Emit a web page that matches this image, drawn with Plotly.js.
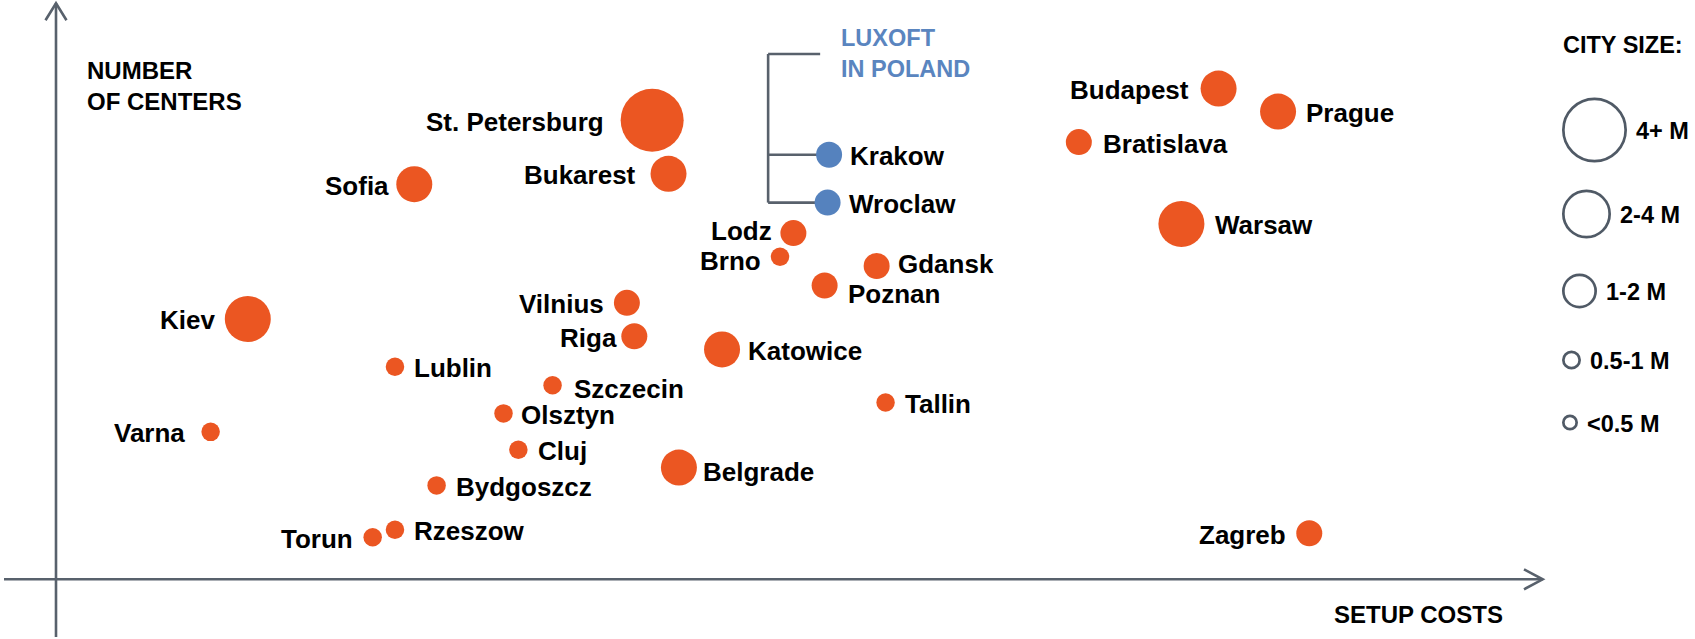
<!DOCTYPE html>
<html>
<head>
<meta charset="utf-8">
<script src="https://cdn.plot.ly/plotly-3.0.1.min.js"></script>
<style>
  html, body { margin: 0; padding: 0; background: #ffffff; }
  #chart { width: 1695px; height: 639px; }
</style>
</head>
<body>
<div id="chart"></div>
<script>
// ---------------- DATA ----------------
// x: setup costs index (0 = origin, 100 = axis arrow), y: number of centers index
const cities = [
  'St. Petersburg', 'Bukarest', 'Sofia', 'Kiev', 'Vilnius', 'Riga', 'Lublin',
  'Szczecin', 'Olsztyn', 'Varna', 'Cluj', 'Belgrade', 'Bydgoszcz', 'Torun',
  'Rzeszow', 'Katowice', 'Tallin', 'Zagreb', 'Krakow', 'Wroclaw', 'Lodz',
  'Brno', 'Gdansk', 'Poznan', 'Budapest', 'Prague', 'Bratislava', 'Warsaw'
];
const setupCost = [
  40.1, 41.2, 24.1, 12.9, 38.4, 38.9, 22.8,
  33.4, 30.1, 10.4, 31.1, 41.9, 25.6, 21.3,
  22.8, 44.8, 55.8, 84.3, 52.0, 51.9, 49.6,
  48.7, 55.2, 51.7, 78.2, 82.2, 68.8, 75.7
];
const numCenters = [
  79.7, 70.4, 68.6, 45.2, 48.0, 42.2, 36.9,
  33.7, 28.8, 25.6, 22.5, 19.4, 16.3, 7.3,
  8.6, 39.9, 30.7, 8.0, 73.7, 65.4, 60.1,
  56.0, 54.4, 51.0, 85.2, 81.2, 75.9, 61.7
];
const citySize = [
  '4+ M', '1-2 M', '1-2 M', '2-4 M', '0.5-1 M', '0.5-1 M', '<0.5 M',
  '<0.5 M', '<0.5 M', '<0.5 M', '<0.5 M', '1-2 M', '<0.5 M', '<0.5 M',
  '<0.5 M', '1-2 M', '<0.5 M', '0.5-1 M', '0.5-1 M', '0.5-1 M', '0.5-1 M',
  '<0.5 M', '0.5-1 M', '0.5-1 M', '1-2 M', '1-2 M', '0.5-1 M', '2-4 M'
];
const luxoftCities = ['Krakow', 'Wroclaw'];
const sizeClasses = ['4+ M', '2-4 M', '1-2 M', '0.5-1 M', '<0.5 M'];

const xAxisTitle = 'SETUP COSTS';
const yAxisTitle = 'NUMBER<br>OF CENTERS';
const legendTitle = 'CITY SIZE:';
const groupTitle = 'LUXOFT<br>IN POLAND';

// ---------------- STYLE / LAYOUT ----------------
const W = 1695, H = 639;
const X_RANGE = [-3.767, 110.245];
const Y_RANGE = [-10.365, 100.573];
const pxX = W / (X_RANGE[1] - X_RANGE[0]);
const pxY = H / (Y_RANGE[1] - Y_RANGE[0]);

const ORANGE = '#EB5622';
const BLUE = '#5582BE';
const BLUE_TEXT = '#5A85BF';
const AXIS = '#58616C';
const LEGEND_LINE = '#505A66';
const FONT = 'Liberation Sans, Arial, Helvetica, sans-serif';

const DIAM = { '4+ M': 63, '2-4 M': 46, '1-2 M': 36, '0.5-1 M': 26, '<0.5 M': 18.5 };

// labels placed to the left of their point
const labelLeft = ['St. Petersburg', 'Bukarest', 'Sofia', 'Kiev', 'Vilnius', 'Riga',
  'Varna', 'Torun', 'Zagreb', 'Lodz', 'Brno', 'Budapest'];
const LABEL_GAP = { 'St. Petersburg': 16, 'Bukarest': 14, 'Sofia': 6, 'Riga': 3, 'Varna': 15,
  'Belgrade': 5, 'Olsztyn': 7, 'Lodz': 7, 'Gdansk': 7, 'Krakow': 7, 'Wroclaw': 7, 'Katowice': 7,
  'Szczecin': 11, 'Budapest': 11, 'Bratislava': 10, 'Warsaw': 10 };
const LABEL_NUDGE = { 'Poznan': 7, 'Lodz': -4, 'Gdansk': -3, 'Brno': 3, 'Belgrade': 3, 'Szczecin': 2 };

const LABEL_FONT = { family: FONT, size: 26, color: '#000000', weight: 'bold' };
const TITLE_FONT = { family: FONT, size: 24, color: '#000000', weight: 'bold' };
const LEGEND_FONT = { family: FONT, size: 23.5, color: '#000000', weight: 'bold' };

// ---------------- TRACES ----------------
const allIdx = cities.map((c, i) => i);
const orangeIdx = allIdx.filter(i => !luxoftCities.includes(cities[i]));
const blueIdx = allIdx.filter(i => luxoftCities.includes(cities[i]));

function cityTrace(ids, color, name) {
  return {
    type: 'scatter', mode: 'markers', name: name,
    x: ids.map(i => setupCost[i]),
    y: ids.map(i => numCenters[i]),
    text: ids.map(i => cities[i]),
    hoverinfo: 'text',
    cliponaxis: false,
    marker: { size: ids.map(i => DIAM[citySize[i]]), color: color, opacity: 1, line: { width: 0 } }
  };
}
const traces = [cityTrace(orangeIdx, ORANGE, 'Cities'), cityTrace(blueIdx, BLUE, 'Luxoft in Poland')];

// ---------------- ANNOTATIONS ----------------
const annotations = [];
cities.forEach((c, i) => {
  const left = labelLeft.includes(c);
  const r = DIAM[citySize[i]] / 2;
  const gap = (c in LABEL_GAP) ? LABEL_GAP[c] : 9;
  const nudge = LABEL_NUDGE[c] || 0;
  annotations.push({
    x: setupCost[i], y: numCenters[i], xref: 'x', yref: 'y',
    text: c, showarrow: false, borderpad: 0,
    xanchor: left ? 'right' : 'left', yanchor: 'middle',
    xshift: (left ? -1 : 1) * (r + gap), yshift: -1.5 - nudge,
    font: LABEL_FONT
  });
});

// axis titles
annotations.push({ xref: 'paper', yref: 'paper', x: 86 / W, y: 1 - 86 / H, text: yAxisTitle,
  showarrow: false, xanchor: 'left', yanchor: 'middle', align: 'left', borderpad: 0, font: TITLE_FONT });
annotations.push({ xref: 'paper', yref: 'paper', x: 1504 / W, y: 1 - 614 / H, text: xAxisTitle,
  showarrow: false, xanchor: 'right', yanchor: 'middle', borderpad: 0, font: TITLE_FONT });

// Luxoft bracket + title
const kIdx = cities.indexOf('Krakow'), wIdx = cities.indexOf('Wroclaw');
const BR_X = setupCost[kIdx] - 4.1;
const BR_TOP = 91.2;
const BR_TOP_RIGHT = BR_X + 3.5;
annotations.push({ xref: 'x', yref: 'y', x: BR_X + 4.85, y: BR_TOP, text: groupTitle, showarrow: false,
  xanchor: 'left', yanchor: 'middle', align: 'left', borderpad: 0,
  font: { family: FONT, size: 23.5, color: BLUE_TEXT, weight: 'bold' } });

// legend
const LEG_LEFT = 1562;
const LEG_CY = [130, 214, 291, 360, 422.5];
const LEG_D = [65, 49, 35, 19, 16];
const LEG_STROKE = 2.7;
annotations.push({ xref: 'paper', yref: 'paper', x: 1562 / W, y: 1 - 45 / H, text: legendTitle,
  showarrow: false, xanchor: 'left', yanchor: 'middle', borderpad: 0, font: LEGEND_FONT });

const shapes = [];
sizeClasses.forEach((s, k) => {
  const d = LEG_D[k] - LEG_STROKE;
  const x0 = LEG_LEFT + LEG_STROKE / 2;
  shapes.push({ type: 'circle', xref: 'paper', yref: 'paper',
    x0: x0 / W, x1: (x0 + d) / W, y0: 1 - (LEG_CY[k] + d / 2) / H, y1: 1 - (LEG_CY[k] - d / 2) / H,
    fillcolor: 'rgba(0,0,0,0)', line: { color: LEGEND_LINE, width: LEG_STROKE } });
  annotations.push({ xref: 'paper', yref: 'paper', x: (LEG_LEFT + LEG_D[k] + 8) / W, y: 1 - (LEG_CY[k] + 1) / H,
    text: s, showarrow: false, xanchor: 'left', yanchor: 'middle', borderpad: 0, font: LEGEND_FONT });
});

// axes with open arrowheads
const AX_W = 2.6;
shapes.push({ type: 'line', xref: 'x', yref: 'y', layer: 'below', x0: X_RANGE[0] + 4 / pxX, x1: 100, y0: 0, y1: 0,
  line: { color: AXIS, width: AX_W } });
shapes.push({ type: 'line', xref: 'x', yref: 'y', layer: 'below', x0: 0, x1: 0, y0: Y_RANGE[0] + 2 / pxY, y1: 100,
  line: { color: AXIS, width: AX_W } });
shapes.push({ type: 'path', xref: 'x', yref: 'y', layer: 'below',
  path: `M${100 - 18.7 / pxX},${10 / pxY} L100,0 L${100 - 18.7 / pxX},${-10 / pxY}`,
  line: { color: AXIS, width: AX_W } });
shapes.push({ type: 'path', xref: 'x', yref: 'y', layer: 'below',
  path: `M${-10.5 / pxX},${100 - 17 / pxY} L0,100 L${10.5 / pxX},${100 - 17 / pxY}`,
  line: { color: AXIS, width: AX_W } });

// bracket
const brLine = { color: AXIS, width: AX_W };
shapes.push({ type: 'line', xref: 'x', yref: 'y', layer: 'below', x0: BR_X, x1: BR_X, y0: BR_TOP, y1: numCenters[wIdx], line: brLine });
shapes.push({ type: 'line', xref: 'x', yref: 'y', layer: 'below', x0: BR_X, x1: BR_TOP_RIGHT, y0: BR_TOP, y1: BR_TOP, line: brLine });
shapes.push({ type: 'line', xref: 'x', yref: 'y', layer: 'below', x0: BR_X, x1: setupCost[kIdx], y0: numCenters[kIdx], y1: numCenters[kIdx], line: brLine });
shapes.push({ type: 'line', xref: 'x', yref: 'y', layer: 'below', x0: BR_X, x1: setupCost[wIdx], y0: numCenters[wIdx], y1: numCenters[wIdx], line: brLine });

const layout = {
  width: W, height: H,
  margin: { l: 0, r: 0, t: 0, b: 0, pad: 0 },
  paper_bgcolor: '#ffffff', plot_bgcolor: '#ffffff',
  showlegend: false,
  xaxis: { range: X_RANGE, visible: false, fixedrange: true },
  yaxis: { range: Y_RANGE, visible: false, fixedrange: true },
  annotations: annotations,
  shapes: shapes,
  font: { family: FONT }
};

Plotly.newPlot('chart', traces, layout, { displayModeBar: false, staticPlot: true });
</script>
</body>
</html>
